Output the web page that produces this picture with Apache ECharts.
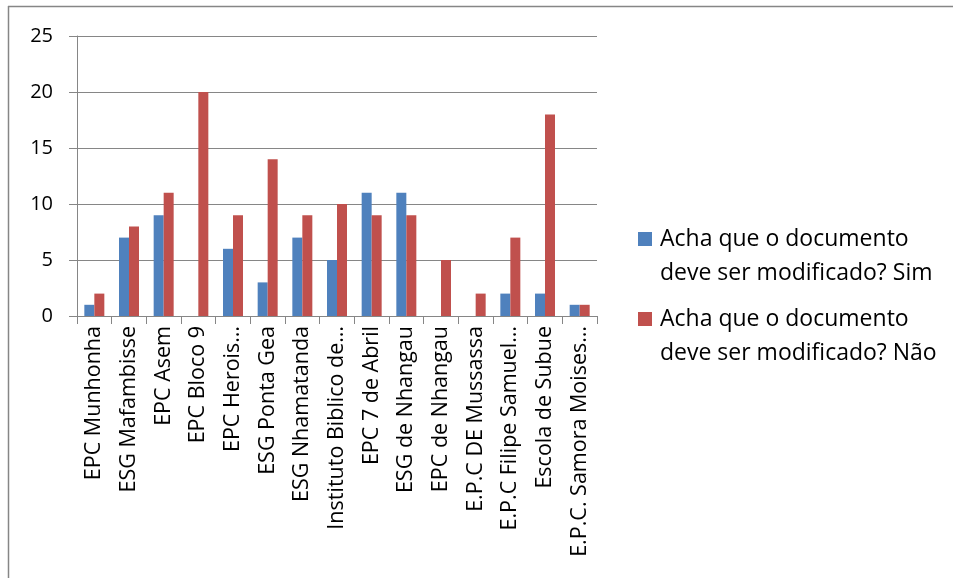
<!DOCTYPE html>
<html>
<head>
<meta charset="utf-8">
<script src="https://cdn.jsdelivr.net/npm/echarts@6/dist/echarts.min.js"></script>
<style>
html,body{margin:0;padding:0;background:#fff;}
#chart{width:953px;height:578px;}
</style>
</head>
<body>
<div id="chart"></div>
<script>
var categories = ["EPC Munhonha","ESG Mafambisse","EPC Asem","EPC Bloco 9","EPC Herois…","ESG Ponta Gea","ESG Nhamatanda","Instituto Biblico de…","EPC 7 de Abril","ESG de Nhangau","EPC de Nhangau","E.P.C DE Mussassa","E.P.C Filipe Samuel…","Escola de Subue","E.P.C. Samora Moises…"];
var simValues = [1,7,9,0,6,3,7,5,11,11,0,0,2,2,1];
var naoValues = [2,8,11,20,9,14,9,10,9,9,5,2,7,18,1];
var seriesNames = ["Acha que o documento deve ser modificado? Sim","Acha que o documento deve ser modificado? Não"];
var yTicks = [0,5,10,15,20,25];

var FONT = "Open Sans";
var chart = echarts.init(document.getElementById('chart'), null, {renderer:'canvas'});
var iconPath = 'path://M0,0L14,0L14,14L0,14Z M17,48L17,48.01L16.99,48Z';
chart.setOption({
  animation:false,
  backgroundColor:'#fff',
  textStyle:{fontFamily:FONT},
  grid:{left:77,right:356,top:36,bottom:262,containLabel:false},
  legend:{
    orient:'vertical',left:633,top:217,itemGap:12,
    itemWidth:17,itemHeight:48,
    data:[{name:seriesNames[0],icon:iconPath},{name:seriesNames[1],icon:iconPath}],
    formatter:function(n){return n.replace(' deve','\ndeve');},
    textStyle:{fontFamily:FONT,fontSize:23,color:'#000',lineHeight:34}
  },
  xAxis:{
    type:'category',data:categories,
    axisLine:{lineStyle:{color:'#868686',width:1}},
    axisTick:{show:true,length:8,lineStyle:{color:'#868686'}},
    axisLabel:{rotate:90,margin:10,fontSize:21.5,color:'#000',fontFamily:FONT,interval:0}
  },
  yAxis:{
    type:'value',min:yTicks[0],max:yTicks[yTicks.length-1],interval:5,
    axisLine:{show:true,lineStyle:{color:'#868686'}},
    axisTick:{show:true,length:8,lineStyle:{color:'#868686'}},
    splitLine:{lineStyle:{color:'#868686',width:1}},
    axisLabel:{margin:24,fontSize:20,color:'#000',fontFamily:FONT}
  },
  series:[
    {name:seriesNames[0],type:'bar',data:simValues,barWidth:10,barGap:'0%',itemStyle:{color:'#4F81BD'}},
    {name:seriesNames[1],type:'bar',data:naoValues,barWidth:10,barGap:'0%',itemStyle:{color:'#C0504D'}}
  ],
  graphic:[
    {type:'line',shape:{x1:8.5,y1:6,x2:8.5,y2:578},style:{stroke:'#868686',lineWidth:1.5},silent:true},
    {type:'line',shape:{x1:8,y1:6.5,x2:953,y2:6.5},style:{stroke:'#868686',lineWidth:1.5},silent:true}
  ]
});
</script>
</body>
</html>
